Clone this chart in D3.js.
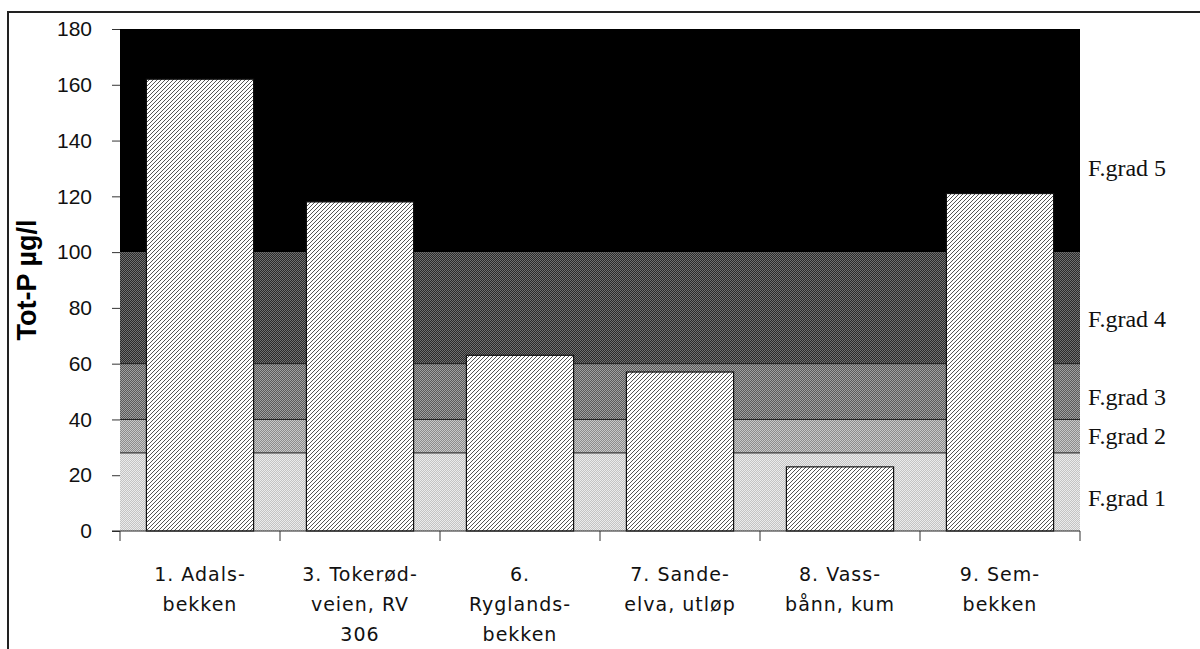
<!DOCTYPE html>
<html>
<head>
<meta charset="utf-8">
<script src="https://cdn.jsdelivr.net/npm/d3@7"></script>
<style>
  html, body { margin: 0; padding: 0; background: #fff; overflow: hidden; }
  svg { display: block; }
</style>
</head>
<body>
<svg width="1200" height="649" id="mainsvg"></svg>
<script>
const categories = ['1', '3', '6', '7', '8', '9'];
const catLabels = [
  ['1. Adals-', 'bekken'],
  ['3. Tokerød-', 'veien, RV', '306'],
  ['6.', 'Ryglands-', 'bekken'],
  ['7. Sande-', 'elva, utløp'],
  ['8. Vass-', 'bånn, kum'],
  ['9. Sem-', 'bekken']
];
const totP = [162, 118, 63, 57, 23, 121];
const gradeBreaks = [0, 28, 40, 60, 100, 180];
const gradeNames = ['F.grad 1', 'F.grad 2', 'F.grad 3', 'F.grad 4', 'F.grad 5'];
const gradeLabelAt = [12, 34, 48, 76, 130];
const yTicks = [0, 20, 40, 60, 80, 100, 120, 140, 160, 180];

const svg = d3.select('svg');
const margin = { top: 29, right: 120, bottom: 118, left: 120 };
const width = +svg.attr('width');
const height = +svg.attr('height');
const innerWidth = width - margin.left - margin.right;
const innerHeight = height - margin.top - margin.bottom;

// outer frame (open on the right and bottom, as in the scan)
svg.append('path').attr('d', `M8,${height} V12 H${width}`)
  .attr('fill', 'none').attr('stroke', '#222').attr('stroke-width', 2);

// dither-like patterns for grade bands
const defs = svg.append('defs');
const bandColors = [['#ececec', '#c4c4c4'], ['#c8c8c8', '#8c8c8c'], ['#a0a0a0', '#5a5a5a'], ['#707070', '#2a2a2a'], ['#000', '#000']];
bandColors.forEach((c, i) => {
  const p = defs.append('pattern').attr('id', 'band' + i)
    .attr('width', 2).attr('height', 2).attr('patternUnits', 'userSpaceOnUse');
  p.append('rect').attr('width', 2).attr('height', 2).attr('fill', c[0]);
  p.append('rect').attr('width', 1).attr('height', 1).attr('fill', c[1]);
  p.append('rect').attr('x', 1).attr('y', 1).attr('width', 1).attr('height', 1).attr('fill', c[1]);
});
const hatch = defs.append('pattern').attr('id', 'hatch')
  .attr('width', 4).attr('height', 4).attr('patternUnits', 'userSpaceOnUse');
hatch.append('rect').attr('width', 4).attr('height', 4).attr('fill', '#fff');
hatch.append('path').attr('d', 'M-1,1 l2,-2 M0,4 l4,-4 M3,5 l2,-2')
  .attr('stroke', '#555').attr('stroke-width', 1);

const g = svg.append('g').attr('transform', `translate(${margin.left}, ${margin.top})`);

const x = d3.scaleBand().domain(categories).range([0, innerWidth]).padding(0);
const y = d3.scaleLinear().domain([0, 180]).range([innerHeight, 0]);

// grade bands
const bands = d3.range(gradeNames.length).map(i => ({ lo: gradeBreaks[i], hi: gradeBreaks[i + 1], i }));
g.selectAll('.band').data(bands).join('rect')
  .attr('class', 'band')
  .attr('x', 0).attr('width', innerWidth)
  .attr('y', d => y(d.hi)).attr('height', d => y(d.lo) - y(d.hi))
  .attr('fill', d => `url(#band${d.i})`);
g.selectAll('.bline').data(gradeBreaks.slice(1, 4)).join('line')
  .attr('class', 'bline')
  .attr('x1', 0).attr('x2', innerWidth)
  .attr('y1', d => y(d)).attr('y2', d => y(d))
  .attr('stroke', '#1a1a1a').attr('stroke-width', 1);

// bars
const barW = x.bandwidth() * 0.67;
g.selectAll('.bar').data(totP).join('rect')
  .attr('class', 'bar')
  .attr('x', (d, i) => x(categories[i]) + (x.bandwidth() - barW) / 2)
  .attr('width', barW)
  .attr('y', d => y(d)).attr('height', d => y(0) - y(d))
  .attr('fill', 'url(#hatch)')
  .attr('stroke', '#111').attr('stroke-width', 1.2);

// y axis
const yAxis = g.append('g').call(d3.axisLeft(y).tickValues(yTicks).tickSize(8).tickPadding(20));
yAxis.select('.domain').remove();
yAxis.selectAll('line').attr('stroke', '#333');
yAxis.selectAll('text').attr('font-family', 'Liberation Sans, Arial, sans-serif')
  .attr('font-size', 21).attr('fill', '#111');

// x axis
g.append('line').attr('x1', -8).attr('x2', innerWidth)
  .attr('y1', y(0)).attr('y2', y(0)).attr('stroke', '#222').attr('stroke-width', 1.2);
const bounds = categories.map(c => x(c)).concat([innerWidth]);
g.selectAll('.xtick').data(bounds).join('line')
  .attr('class', 'xtick')
  .attr('x1', d => d).attr('x2', d => d)
  .attr('y1', y(0)).attr('y2', y(0) + 10)
  .attr('stroke', '#333');
catLabels.forEach((lines, i) => {
  lines.forEach((line, j) => {
    g.append('text')
      .attr('x', x(categories[i]) + x.bandwidth() / 2)
      .attr('y', y(0) + 50 + j * 30)
      .attr('text-anchor', 'middle')
      .attr('font-family', 'DejaVu Sans, sans-serif')
      .attr('font-size', 19).attr('letter-spacing', 1).attr('fill', '#111')
      .text(line);
  });
});

// grade labels
g.selectAll('.glab').data(gradeNames).join('text')
  .attr('class', 'glab')
  .attr('x', innerWidth + 8)
  .attr('y', (d, i) => y(gradeLabelAt[i]) + 8)
  .attr('font-family', 'Liberation Serif, Times New Roman, serif')
  .attr('font-size', 24).attr('fill', '#111')
  .text(d => d);

// y title
svg.append('text')
  .attr('transform', 'translate(36, 280) rotate(-90)')
  .attr('text-anchor', 'middle')
  .attr('font-family', 'Liberation Sans, Arial, sans-serif')
  .attr('font-weight', 'bold').attr('font-size', 27).attr('fill', '#000')
  .text('Tot-P µg/l');
</script>
</body>
</html>
